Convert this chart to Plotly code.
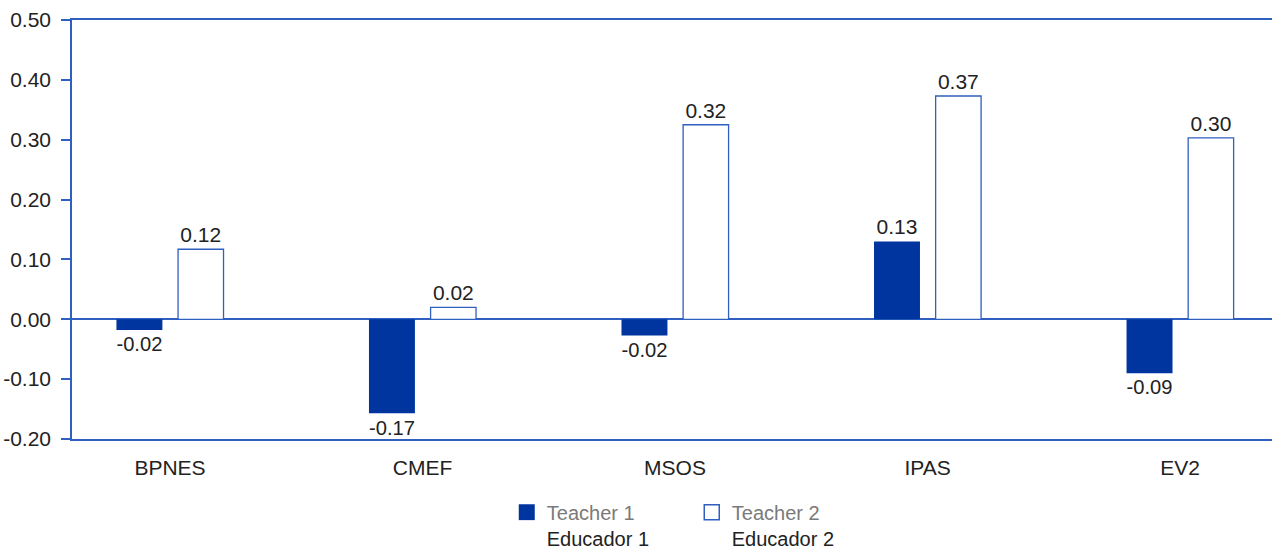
import plotly.graph_objects as go

categories = ["BPNES", "CMEF", "MSOS", "IPAS", "EV2"]
teacher1 = [-0.018, -0.157, -0.027, 0.130, -0.090]
teacher2 = [0.117, 0.020, 0.325, 0.373, 0.303]
teacher1_labels = ["-0.02", "-0.17", "-0.02", "0.13", "-0.09"]
teacher2_labels = ["0.12", "0.02", "0.32", "0.37", "0.30"]
legend_names = ["<span style='color:#7a7a7a'>Teacher 1</span><br>Educador 1",
                "<span style='color:#7a7a7a'>Teacher 2</span><br>Educador 2"]
y_ticks = [-0.2, -0.1, 0.0, 0.1, 0.2, 0.3, 0.4, 0.5]
y_tick_text = ["-0.20", "-0.10", "0.00", "0.10", "0.20", "0.30", "0.40", "0.50"]

DARK = "#0035a0"
LINE = "#2f5fbf"
FONT = "Liberation Sans, Arial, sans-serif"
FS = 21

fig = go.Figure()
fig.add_trace(go.Bar(
    x=categories, y=teacher1, text=teacher1_labels, showlegend=False,
    marker=dict(color=DARK, line=dict(color=DARK, width=0)),
    width=0.182, offset=-0.212,
    textposition="outside", textfont=dict(size=FS, color="#222222"),
    cliponaxis=False,
))
fig.add_trace(go.Bar(
    x=categories, y=teacher2, text=teacher2_labels, showlegend=False,
    marker=dict(color="white", line=dict(color=LINE, width=1.3)),
    width=0.180, offset=0.032,
    textposition="outside", textfont=dict(size=FS, color="#222222"),
    cliponaxis=False,
))
# legend entries
fig.add_trace(go.Scatter(
    x=[None], y=[None], mode="markers", name=legend_names[0],
    marker=dict(symbol="square", size=16, color=DARK, line=dict(width=0)),
))
fig.add_trace(go.Scatter(
    x=[None], y=[None], mode="markers", name=legend_names[1],
    marker=dict(symbol="square", size=15, color="white", line=dict(color=LINE, width=1.5)),
))

fig.update_layout(
    width=1272, height=548,
    margin=dict(l=72, r=0, t=19.5, b=109, autoexpand=False),
    plot_bgcolor="white", paper_bgcolor="white",
    font=dict(family=FONT, size=FS, color="#222222"),
    barmode="overlay",
    showlegend=True,
    legend=dict(orientation="h", x=0.3623, xanchor="left", y=-0.128, yanchor="top",
                font=dict(size=20, color="#222222"), valign="top",
                itemwidth=30, tracegroupgap=0, entrywidth=140),
    xaxis=dict(
        type="category", range=[-0.388, 4.364], automargin=False,
        showline=True, mirror=True, linecolor=LINE, linewidth=1.5,
        ticks="", showgrid=False, zeroline=False, ticklabelstandoff=9,
        tickfont=dict(size=FS, color="#222222"),
    ),
    yaxis=dict(
        range=[-0.2, 0.5], tickvals=y_ticks, ticktext=y_tick_text, automargin=False,
        showline=True, linecolor=LINE, linewidth=1.5,
        ticks="outside", ticklen=9, tickcolor=LINE, tickwidth=1.5,
        ticklabelstandoff=6,
        showgrid=False, zeroline=True, zerolinecolor=LINE, zerolinewidth=1.5,
        tickfont=dict(size=FS, color="#222222"),
    ),
)

fig.write_html("out.html", config={"displayModeBar": False},
               post_script="document.body.style.margin='0';")
